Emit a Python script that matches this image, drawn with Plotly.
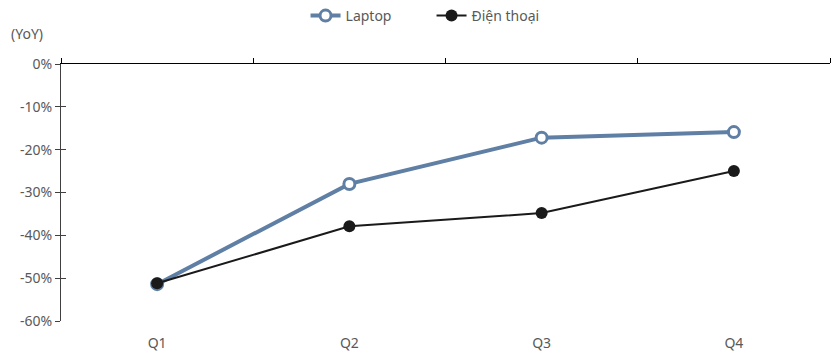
import plotly.graph_objects as go

categories = ["Q1", "Q2", "Q3", "Q4"]
laptop = [-0.514, -0.280, -0.172, -0.159]
phone = [-0.512, -0.379, -0.348, -0.250]
ytick_vals = [0, -0.1, -0.2, -0.3, -0.4, -0.5, -0.6]
ytick_text = ["0%", "-10%", "-20%", "-30%", "-40%", "-50%", "-60%"]

font = dict(family="Noto Sans, Open Sans, sans-serif", size=14, color="#595959")

fig = go.Figure()
fig.add_trace(go.Scatter(
    x=categories, y=laptop, name="Laptop", mode="lines+markers",
    line=dict(color="#5f7fa5", width=4),
    marker=dict(symbol="circle", size=11, color="white", line=dict(color="#5f7fa5", width=3)),
))
fig.add_trace(go.Scatter(
    x=categories, y=phone, name="Điện thoại", mode="lines+markers",
    line=dict(color="#1a1a1a", width=2),
    marker=dict(symbol="circle", size=12, color="#1a1a1a"),
))
# helper trace to realise the overlay axes
fig.add_trace(go.Scatter(x=[None], y=[None], xaxis="x2", yaxis="y2", showlegend=False, hoverinfo="skip"))

fig.update_layout(
    width=834, height=354,
    margin=dict(l=61, r=4, t=64, b=33, autoexpand=False),
    paper_bgcolor="white", plot_bgcolor="white",
    font=font,
    showlegend=True,
    legend=dict(orientation="h", x=0.318, xanchor="left", y=1.0, yref="container", yanchor="top",
                font=font, entrywidth=81, entrywidthmode="pixels"),
    xaxis=dict(type="category", range=[-0.5, 3.5], showline=False, ticks="outside", ticklen=9,
               tickcolor="rgba(0,0,0,0)", showgrid=False, zeroline=False, tickfont=font,
               automargin=False),
    xaxis2=dict(overlaying="x", side="top", anchor="y", range=[-0.5, 3.5],
                tickvals=[-0.5, 0.5, 1.5, 2.5, 3.5], ticks="outside", ticklen=5, tickcolor="#000000",
                showticklabels=False, showline=True, linecolor="#000000", linewidth=1,
                showgrid=False, zeroline=False, automargin=False),
    yaxis=dict(range=[-0.6, 0], tickvals=ytick_vals, ticktext=ytick_text, ticks="outside",
               ticklen=5, tickcolor="#404040", showline=True, linecolor="#404040", linewidth=1,
               showgrid=False, zeroline=False, tickfont=font, automargin=False),
    yaxis2=dict(overlaying="y", anchor="x", range=[-0.6, 0], tickvals=ytick_vals, ticks="inside",
                ticklen=5, tickcolor="#404040", showticklabels=False, showline=False,
                showgrid=False, zeroline=False, side="left", automargin=False),
    annotations=[dict(text="(YoY)", xref="paper", yref="paper", x=-0.068, y=1.12,
                      xanchor="left", yanchor="middle", showarrow=False, font=font)],
)

fig.write_html("out.html")
